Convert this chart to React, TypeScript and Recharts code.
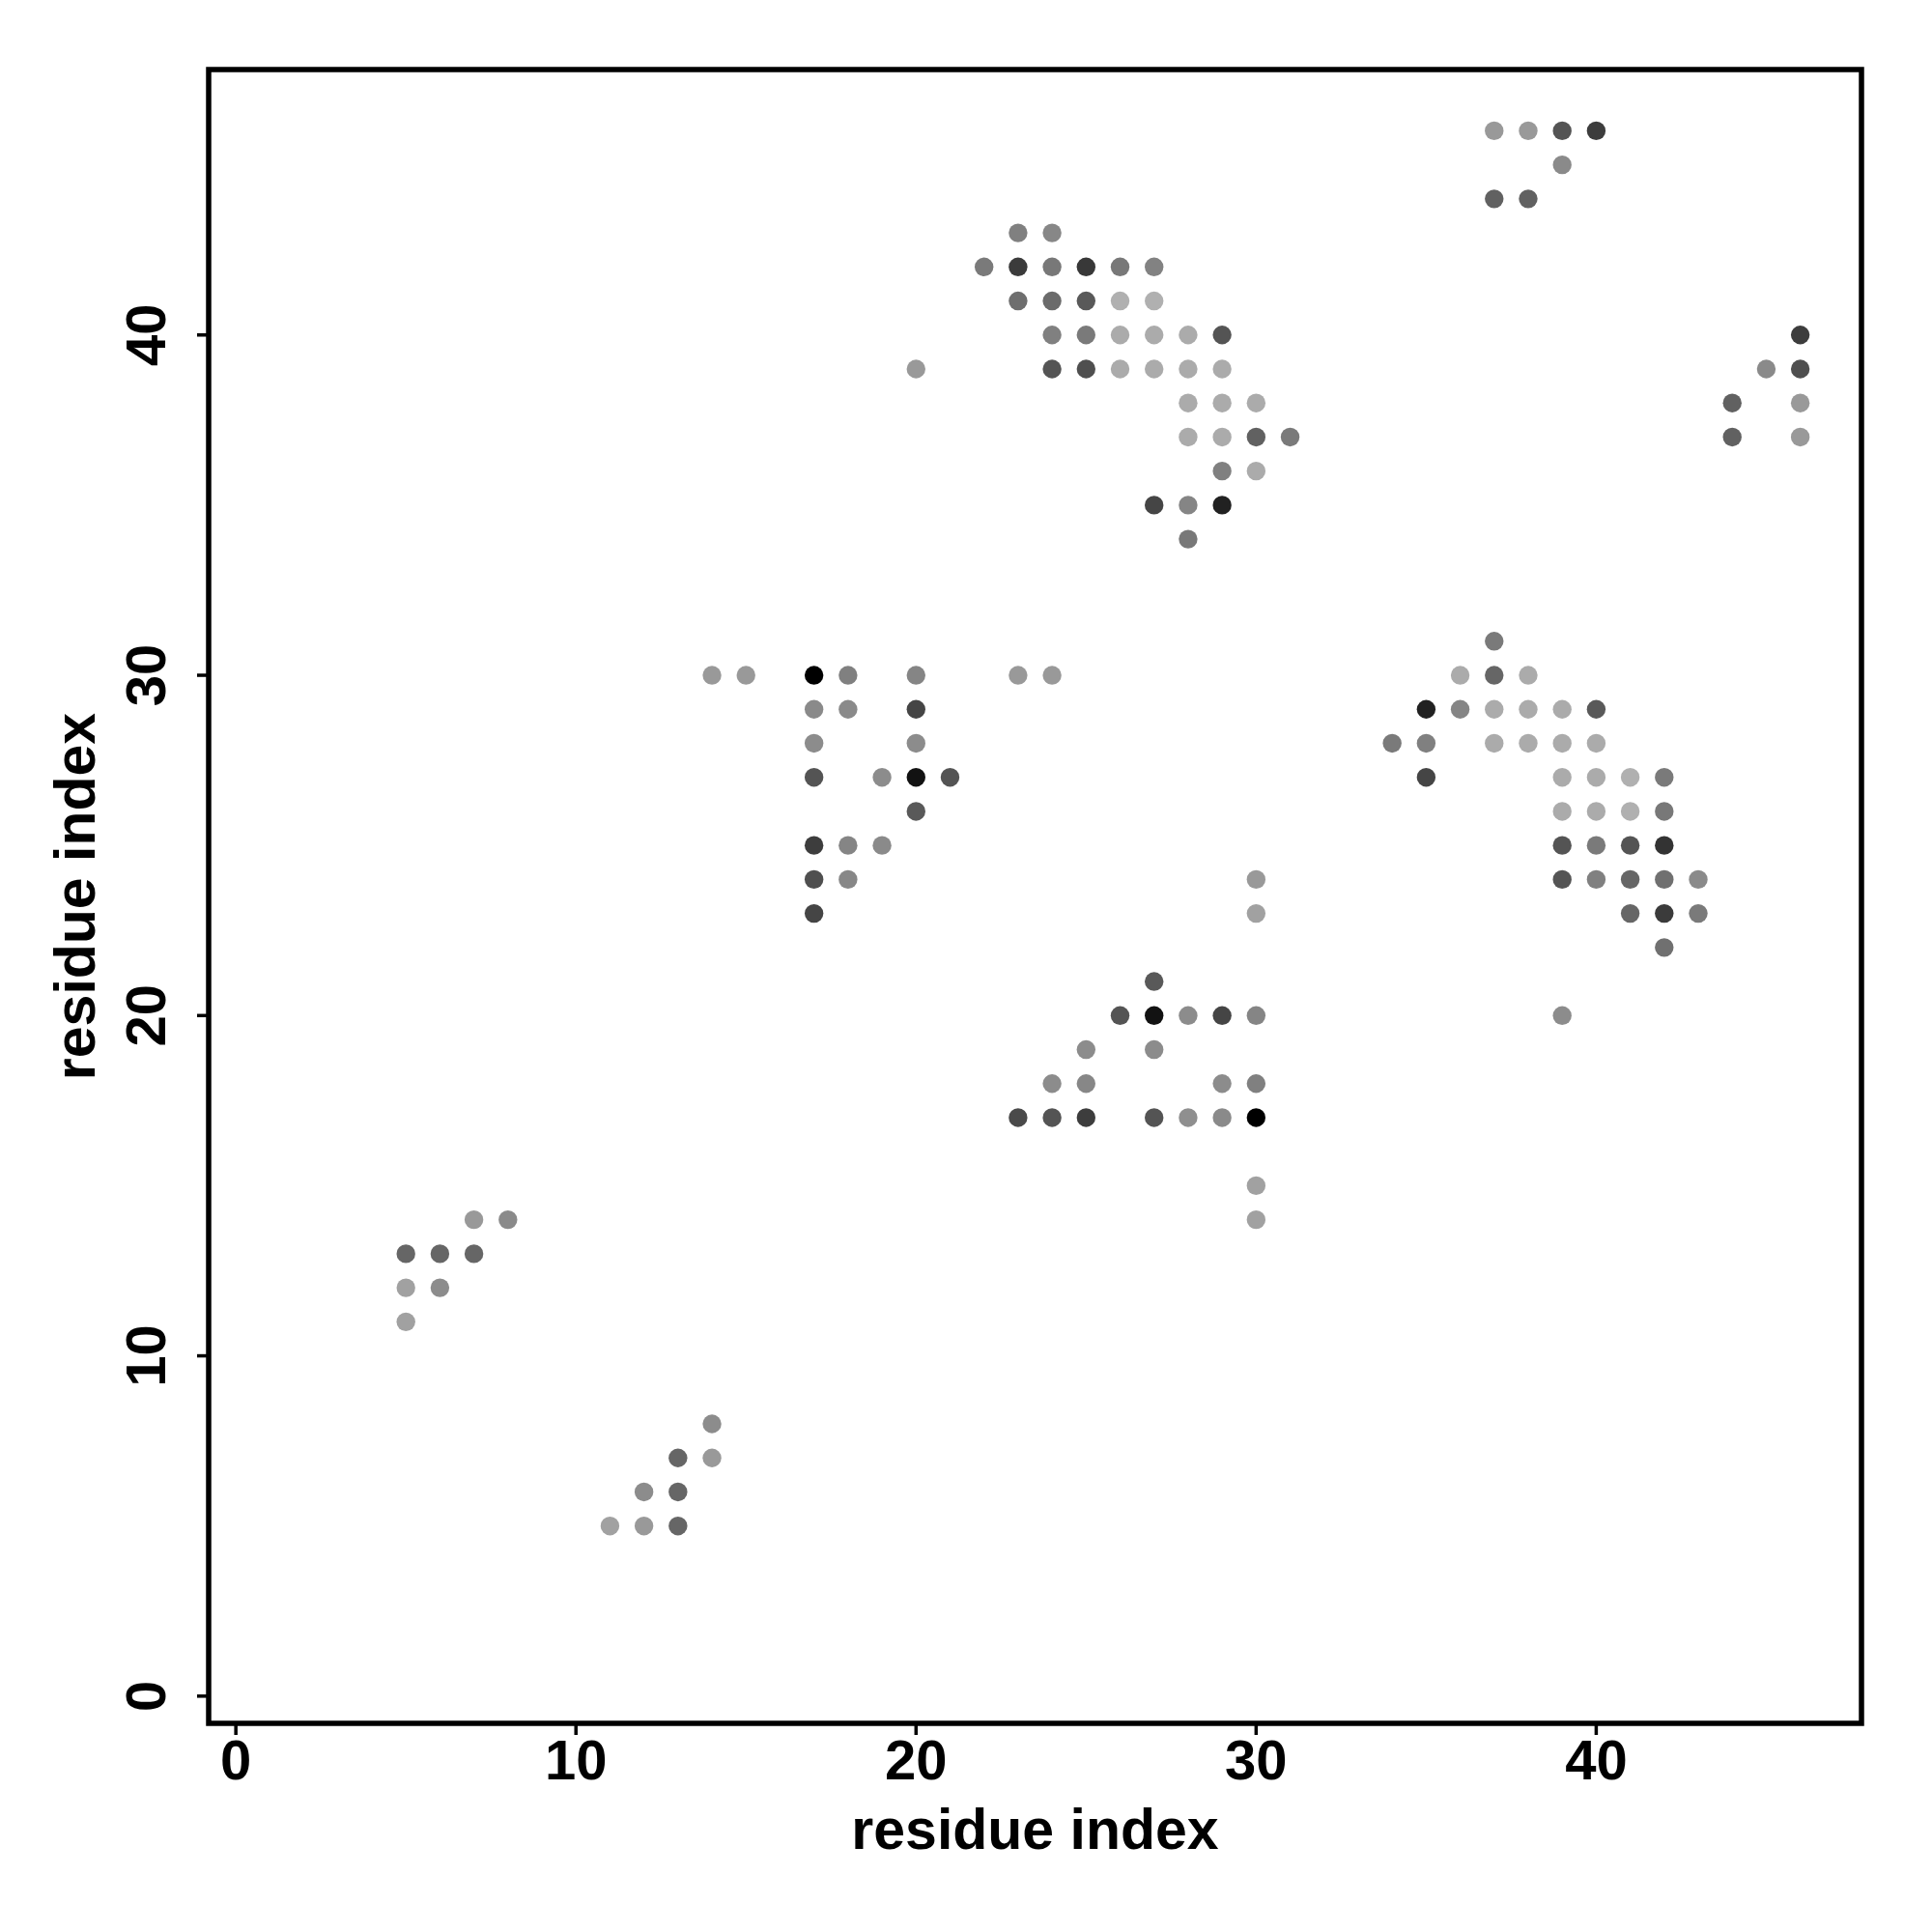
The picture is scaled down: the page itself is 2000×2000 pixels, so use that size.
import React from 'react';
import { ScatterChart, Scatter, XAxis, YAxis, ReferenceArea } from 'recharts';

// [residue i, residue j, contact strength (0 = white, 1 = black)]
type Contact = [number, number, number];

const clusterUpperMiddle: Contact[] = [
  [23, 43, 0.5], [24, 43, 0.47],
  [22, 42, 0.52], [23, 42, 0.77], [24, 42, 0.53], [25, 42, 0.78], [26, 42, 0.53], [27, 42, 0.49],
  [23, 41, 0.57], [24, 41, 0.58], [25, 41, 0.65], [26, 41, 0.31], [27, 41, 0.31],
  [24, 40, 0.5], [25, 40, 0.52], [26, 40, 0.33], [27, 40, 0.33], [28, 40, 0.33], [29, 40, 0.67],
  [20, 39, 0.4], [24, 39, 0.67], [25, 39, 0.69], [26, 39, 0.33], [27, 39, 0.33], [28, 39, 0.33], [29, 39, 0.33],
  [28, 38, 0.33], [29, 38, 0.33], [30, 38, 0.33],
  [28, 37, 0.33], [29, 37, 0.33], [30, 37, 0.62], [31, 37, 0.52],
  [29, 36, 0.5], [30, 36, 0.33],
  [27, 35, 0.73], [28, 35, 0.48], [29, 35, 0.87],
  [28, 34, 0.53],
];

const clusterUpperRight: Contact[] = [
  [37, 46, 0.4], [38, 46, 0.4], [39, 46, 0.67], [40, 46, 0.76],
  [39, 45, 0.46],
  [37, 44, 0.62], [38, 44, 0.62],
  [46, 40, 0.76],
  [45, 39, 0.46], [46, 39, 0.69],
  [44, 38, 0.62], [46, 38, 0.4],
  [44, 37, 0.62], [46, 37, 0.4],
];

const clusterCentreLeft: Contact[] = [
  [14, 30, 0.4], [15, 30, 0.4], [17, 30, 1.0], [18, 30, 0.5], [20, 30, 0.48], [23, 30, 0.4], [24, 30, 0.4],
  [17, 29, 0.46], [18, 29, 0.46], [20, 29, 0.73],
  [17, 28, 0.45], [20, 28, 0.45],
  [17, 27, 0.67], [19, 27, 0.45], [20, 27, 0.93], [21, 27, 0.67],
  [20, 26, 0.65],
  [17, 25, 0.76], [18, 25, 0.48], [19, 25, 0.46],
  [17, 24, 0.69], [18, 24, 0.47],
  [17, 23, 0.73],
];

const clusterCentreRight: Contact[] = [
  [37, 31, 0.52],
  [36, 30, 0.33], [37, 30, 0.6], [38, 30, 0.33],
  [35, 29, 0.87], [36, 29, 0.48], [37, 29, 0.33], [38, 29, 0.33], [39, 29, 0.33], [40, 29, 0.65],
  [34, 28, 0.52], [35, 28, 0.5], [37, 28, 0.33], [38, 28, 0.33], [39, 28, 0.33], [40, 28, 0.33],
  [35, 27, 0.73], [39, 27, 0.33], [40, 27, 0.33], [41, 27, 0.31], [42, 27, 0.52],
  [39, 26, 0.33], [40, 26, 0.33], [41, 26, 0.31], [42, 26, 0.53],
  [39, 25, 0.67], [40, 25, 0.52], [41, 25, 0.67], [42, 25, 0.8],
  [39, 24, 0.67], [40, 24, 0.5], [41, 24, 0.6], [42, 24, 0.56], [43, 24, 0.46],
  [41, 23, 0.6], [42, 23, 0.77], [43, 23, 0.52],
  [42, 22, 0.56],
  [39, 20, 0.45],
];

const clusterLowerMiddle: Contact[] = [
  [30, 24, 0.4], [30, 23, 0.37],
  [27, 21, 0.65],
  [26, 20, 0.67], [27, 20, 0.93], [28, 20, 0.45], [29, 20, 0.73], [30, 20, 0.48],
  [25, 19, 0.45], [27, 19, 0.45],
  [24, 18, 0.45], [25, 18, 0.47], [29, 18, 0.45], [30, 18, 0.5],
  [23, 17, 0.71], [24, 17, 0.67], [25, 17, 0.76], [27, 17, 0.67], [28, 17, 0.44], [29, 17, 0.46], [30, 17, 1.0],
  [30, 15, 0.37], [30, 14, 0.37],
];

const clusterLowerLeft: Contact[] = [
  [7, 14, 0.4], [8, 14, 0.46],
  [5, 13, 0.6], [6, 13, 0.6], [7, 13, 0.6],
  [5, 12, 0.37], [6, 12, 0.45],
  [5, 11, 0.37],
  [14, 8, 0.45],
  [13, 7, 0.6], [14, 7, 0.4],
  [12, 6, 0.45], [13, 6, 0.6],
  [11, 5, 0.37], [12, 5, 0.4], [13, 5, 0.6],
];

const tickValues = [0, 10, 20, 30, 40];
const xTitle = 'residue index';
const yTitle = 'residue index';
const axisDomain: [number, number] = [-0.8, 47.8];

const allContacts: Contact[] = [
  ...clusterUpperMiddle,
  ...clusterUpperRight,
  ...clusterCentreLeft,
  ...clusterCentreRight,
  ...clusterLowerMiddle,
  ...clusterLowerLeft,
];

const data = allContacts.map(([i, j, s]) => ({ i, j, s }));

const FONT = '"Liberation Sans", Arial, Helvetica, sans-serif';

const toGray = (s: number) => {
  const v = Math.round(255 * (1 - s));
  return `rgb(${v},${v},${v})`;
};

const XTick = (props: any) => {
  const { x, y, payload } = props;
  return (
    <text x={x} y={y + 46} textAnchor="middle" fontFamily={FONT} fontWeight="bold" fontSize={58} fill="#000">
      {payload.value}
    </text>
  );
};

const YTick = (props: any) => {
  const { x, y, payload } = props;
  return (
    <text
      transform={`translate(${x - 33},${y}) rotate(-90)`}
      textAnchor="middle"
      fontFamily={FONT}
      fontWeight="bold"
      fontSize={58}
      fill="#000"
    >
      {payload.value}
    </text>
  );
};

const XLabel = (props: any) => {
  const vb = props.viewBox || {};
  return (
    <text
      x={vb.x + vb.width / 2}
      y={vb.y + 130}
      textAnchor="middle"
      fontFamily={FONT}
      fontWeight="bold"
      fontSize={59}
      fill="#000"
    >
      {xTitle}
    </text>
  );
};

const YLabel = (props: any) => {
  const vb = props.viewBox || {};
  return (
    <text
      transform={`translate(${vb.x + vb.width - 118},${vb.y + vb.height / 2}) rotate(-90)`}
      textAnchor="middle"
      fontFamily={FONT}
      fontWeight="bold"
      fontSize={59}
      fill="#000"
    >
      {yTitle}
    </text>
  );
};

const Dot = (props: any) => {
  const { cx, cy, payload } = props;
  if (cx == null || cy == null) return null;
  return <circle cx={cx} cy={cy} r={9.7} fill={toGray(payload.s)} />;
};

export default function App() {
  return (
    <div style={{ position: 'absolute', left: 0, top: 0, width: 2000, height: 2000, background: '#fff' }}>
      <ScatterChart width={2000} height={2000} margin={{ top: 72, right: 73, bottom: 116, left: 116 }}>
        <XAxis
          type="number"
          dataKey="i"
          domain={axisDomain}
          ticks={tickValues}
          allowDataOverflow
          height={100}
          axisLine={false}
          tickLine={{ stroke: '#000', strokeWidth: 3.5 }}
          tickSize={12}
          tickMargin={0}
          tick={<XTick />}
          interval={0}
          label={{ content: <XLabel /> }}
        />
        <YAxis
          type="number"
          dataKey="j"
          domain={axisDomain}
          ticks={tickValues}
          allowDataOverflow
          width={100}
          axisLine={false}
          tickLine={{ stroke: '#000', strokeWidth: 3.5 }}
          tickSize={12}
          tickMargin={0}
          tick={<YTick />}
          interval={0}
          label={{ content: <YLabel /> }}
        />
        <Scatter data={data} isAnimationActive={false} shape={<Dot />} />
        <ReferenceArea
          x1={axisDomain[0]}
          x2={axisDomain[1]}
          y1={axisDomain[0]}
          y2={axisDomain[1]}
          fill="none"
          fillOpacity={0}
          stroke="#000"
          strokeWidth={5.5}
          ifOverflow="visible"
        />
      </ScatterChart>
    </div>
  );
}
